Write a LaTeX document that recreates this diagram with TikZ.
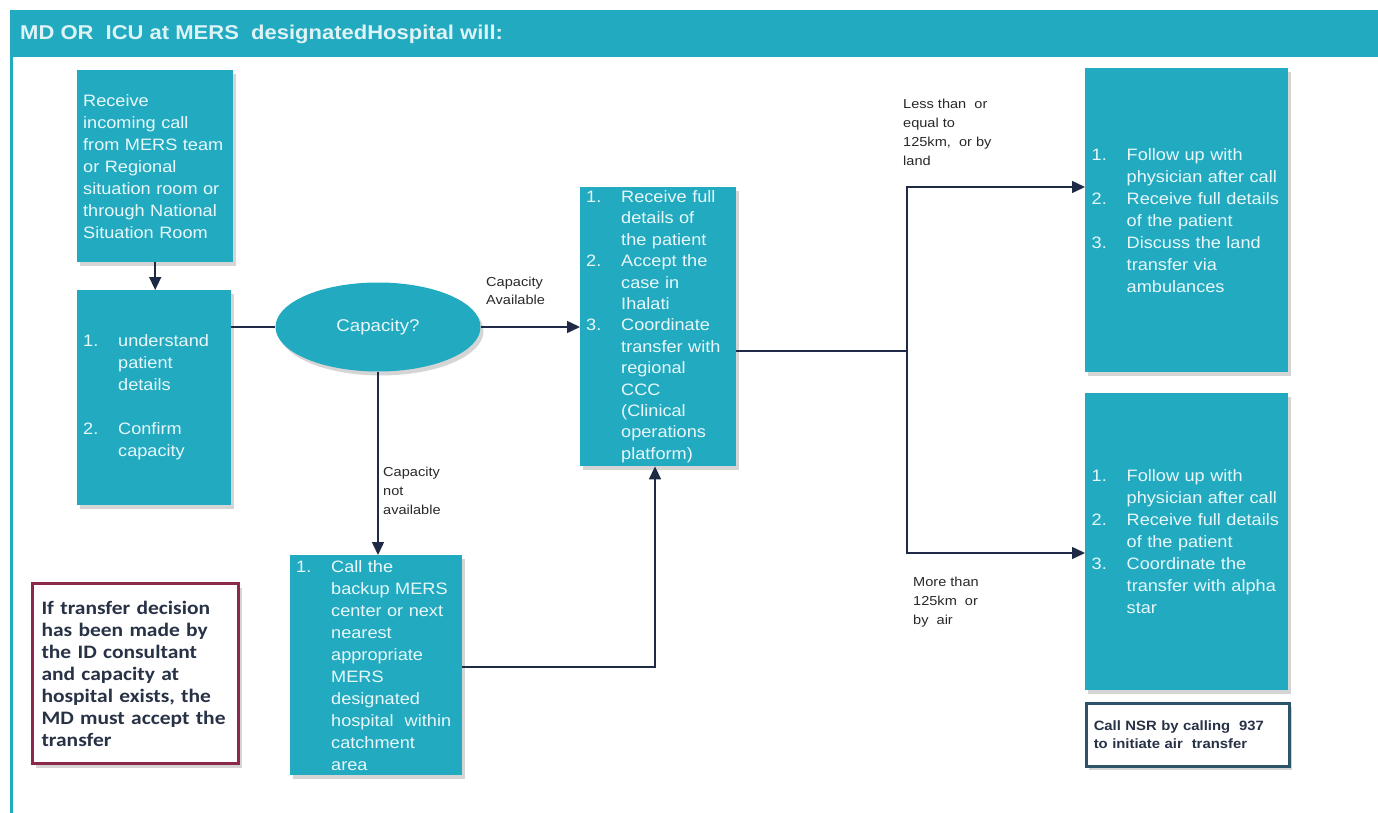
\documentclass[tikz,border=0pt]{standalone}
\usepackage{fontspec}
\setmainfont{Liberation Sans}
\newfontfamily\boxfont[FakeStretch=1.1]{Liberation Sans}
\newfontfamily\lblfont[FakeStretch=1.12]{Liberation Sans}
\newfontfamily\notefont[FakeStretch=1.13]{Carlito}
\usetikzlibrary{shapes.geometric,arrows.meta,shadows}

\definecolor{mersteal}{RGB}{34,170,192}
\definecolor{boxtext}{RGB}{232,248,250}
\definecolor{headtext}{RGB}{222,243,246}
\definecolor{linkcol}{RGB}{30,42,70}
\definecolor{lblcol}{RGB}{40,40,40}
\definecolor{notered}{RGB}{140,40,75}
\definecolor{notetext}{RGB}{40,50,70}
\definecolor{noteslate}{RGB}{45,85,105}

% hanging number column for the numbered steps
\newcommand\nb[1]{\makebox[35pt][l]{#1}}

\begin{document}
\begin{tikzpicture}[x=1pt,y=-1pt,
  softshadow/.style={drop shadow={shadow xshift=3pt,shadow yshift=-4pt,opacity=0.3,fill=black!55}},
  stepbox/.style={fill=mersteal,draw=none,text=boxtext,anchor=north west,
    inner xsep=6pt,inner ysep=0pt,align=left,
    font=\boxfont\fontsize{16.5}{22}\selectfont,softshadow},
  decision/.style={ellipse,fill=mersteal,draw=none,text=boxtext,inner sep=0pt,
    minimum width=205pt,minimum height=89pt,
    font=\boxfont\fontsize{17}{20}\selectfont,softshadow},
  lbl/.style={anchor=north west,inner sep=0pt,align=left,text=lblcol,
    font=\lblfont\fontsize{13}{19}\selectfont},
  link/.style={draw=linkcol,line width=1.5pt},
  arrowlink/.style={link,-{Triangle[length=13pt,width=12pt]}}
]
\useasboundingbox (0,0) rectangle (1378,813);

% frame and title band
\fill[mersteal] (10,10) rectangle (1378,57);
\draw[mersteal,line width=3pt] (11.5,10) -- (11.5,813);
\node[anchor=west,inner sep=0pt,text=headtext,
      font=\boxfont\bfseries\fontsize{20}{24}\selectfont] (title) at (20,34)
  {MD OR\ \ ICU at MERS\ \ designatedHospital will:};

% process steps
\node[stepbox,minimum width=156pt,minimum height=192pt,text width=144pt] (A) at (77,70)
  {Receive\\incoming call\\from MERS team\\or Regional\\situation room or\\through National\\Situation Room};

\node[stepbox,minimum width=154pt,minimum height=215pt,text width=142pt] (B) at (77,290)
  {\nb{1.}understand\\\nb{}patient\\\nb{}details\\[22pt]\nb{2.}Confirm\\\nb{}capacity};

\node[decision] (Q) at (378,327) {Capacity?};

\node[stepbox,minimum width=156pt,minimum height=279pt,text width=144pt,
      font=\boxfont\fontsize{16.5}{21.4}\selectfont] (C) at (580,187)
  {\nb{1.}Receive full\\\nb{}details of\\\nb{}the patient\\\nb{2.}Accept the\\\nb{}case in\\\nb{}Ihalati\\\nb{3.}Coordinate\\\nb{}transfer with\\\nb{}regional\\\nb{}CCC\\\nb{}(Clinical\\\nb{}operations\\\nb{}platform)};

\node[stepbox,minimum width=172pt,minimum height=220pt,text width=160pt] (D) at (290,555)
  {\nb{1.}Call the\\\nb{}backup MERS\\\nb{}center or next\\\nb{}nearest\\\nb{}appropriate\\\nb{}MERS\\\nb{}designated\\\nb{}hospital\ \ within\\\nb{}catchment\\\nb{}area};

\node[stepbox,minimum width=203pt,minimum height=304pt,text width=190pt] (E) at (1085,68)
  {\nb{1.}Follow up with\\\nb{}physician after call\\\nb{2.}Receive full details\\\nb{}of the patient\\\nb{3.}Discuss the land\\\nb{}transfer via\\\nb{}ambulances};

\node[stepbox,minimum width=203pt,minimum height=297pt,text width=190pt] (F) at (1085,393)
  {\nb{1.}Follow up with\\\nb{}physician after call\\\nb{2.}Receive full details\\\nb{}of the patient\\\nb{3.}Coordinate the\\\nb{}transfer with alpha\\\nb{}star};

% notes
\node[anchor=north west,fill=white,draw=noteslate,line width=2.5pt,softshadow,
      minimum width=203pt,minimum height=63pt,text width=188pt,inner xsep=7pt,
      align=left,text=notetext,font=\boxfont\bfseries\fontsize{13.5}{18}\selectfont] (G) at (1085,702)
  {Call\ NSR by calling\ \ 937\\to initiate air\ \ transfer};

\node[anchor=north west,fill=white,draw=notered,line width=3pt,softshadow,
      minimum width=206pt,minimum height=180pt,text width=188pt,inner xsep=9pt,
      align=left,text=notetext,font=\notefont\bfseries\fontsize{19}{22}\selectfont] (H) at (31,582)
  {If transfer decision\\has been made by\\the ID consultant\\and capacity at\\hospital exists, the\\MD must accept the\\transfer};

% connectors
\draw[arrowlink] (A.south) -- (A.south |- B.north);
\draw[link] (Q.west -| B.east) -- (Q.west);
\draw[arrowlink] (Q.east) -- (Q.east -| C.west);
\draw[arrowlink] (Q.south) -- (Q.south |- D.north);

\coordinate (dturn) at (655,667);
\draw[arrowlink] (dturn -| D.east) -- (dturn) -- (dturn |- C.south);

\coordinate (split) at (907,351);
\coordinate (upper) at (907,187);
\coordinate (lower) at (907,553);
\draw[link] (split -| C.east) -- (split);
\draw[arrowlink] (split) -- (upper) -- (upper -| E.west);
\draw[arrowlink] (split) -- (lower) -- (lower -| F.west);

% branch labels
\node[lbl,font=\lblfont\fontsize{13}{18}\selectfont] (lavail) at (486,277) {Capacity\\Available};
\node[lbl] (lnot) at (383,467) {Capacity\\not\\available};
\node[lbl] (lland) at (903,99) {Less than\ \ or\\equal to\\125km,\ \ or by\\land};
\node[lbl] (lair) at (913,577) {More than\\125km\ \ or\\by\ \ air};
\end{tikzpicture}
\end{document}
